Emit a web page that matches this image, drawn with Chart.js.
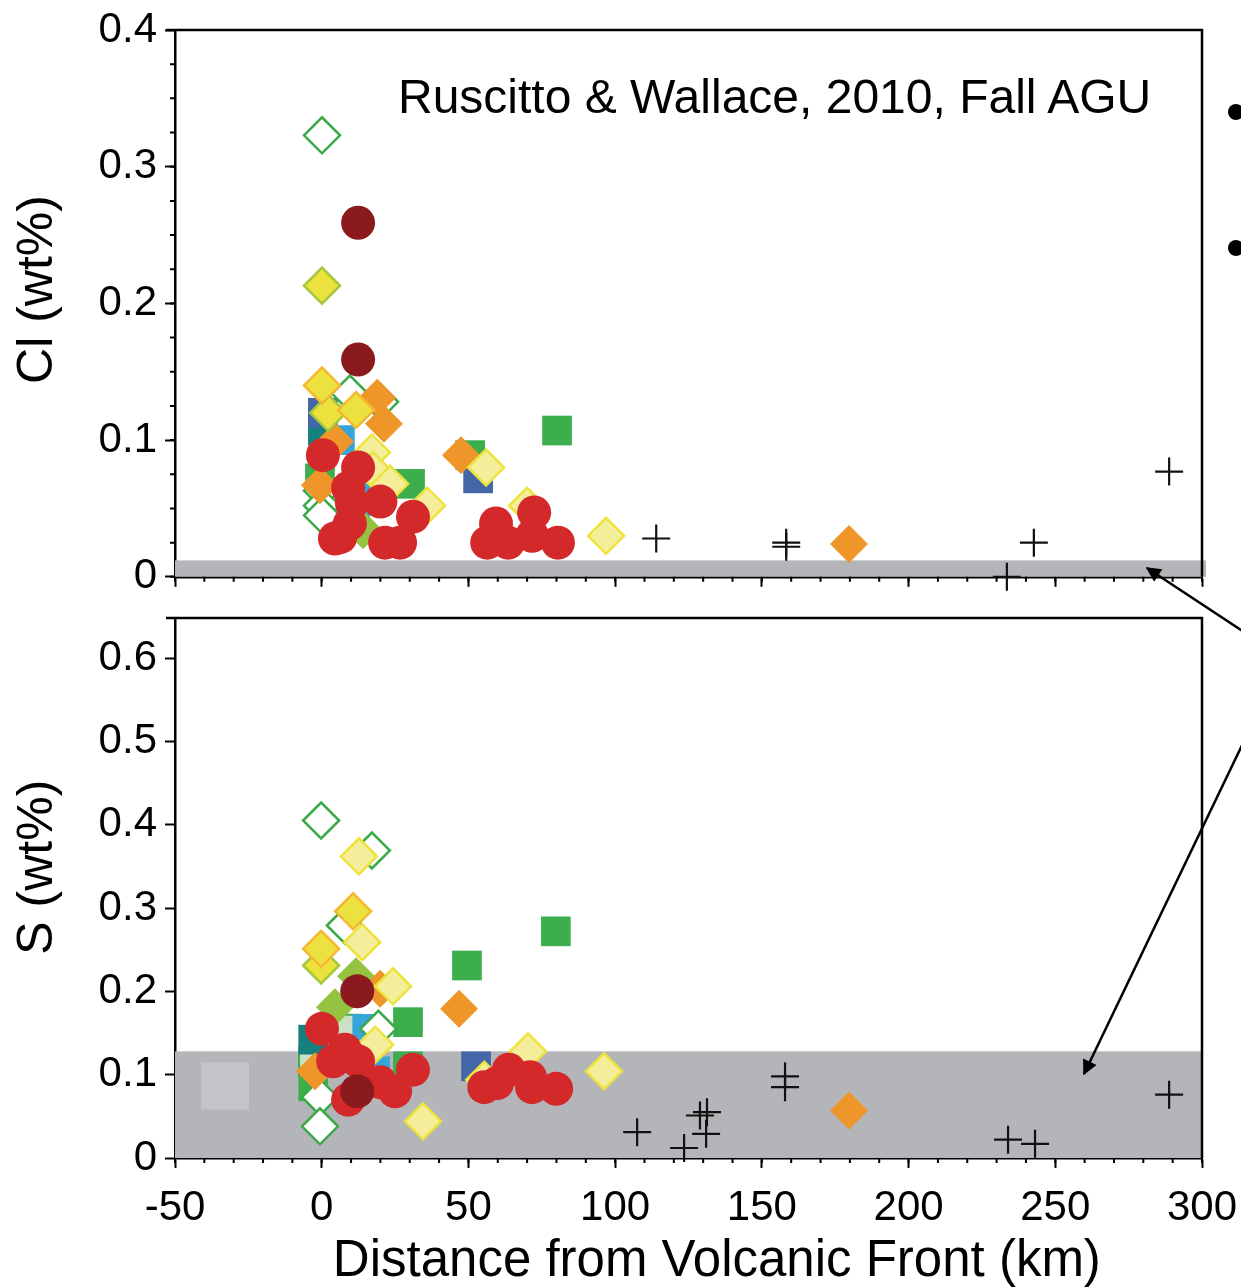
<!DOCTYPE html>
<html>
<head>
<meta charset="utf-8">
<script src="https://cdn.jsdelivr.net/npm/chart.js@4"></script>
<style>
  body { margin: 0; background: #fff; width: 1241px; height: 1287px; overflow: hidden; position: relative; font-family: 'Liberation Sans', Arial, sans-serif; }
  canvas { position: absolute; left: 0; }
  #clChart { top: -20px; }
  #sChart { top: 580px; }
  #note { position: absolute; left: 398px; top: 73px; font-size: 48px; line-height: 48px; white-space: nowrap; color: #000; }
  #over { position: absolute; left: 0; top: 0; pointer-events: none; }
</style>
</head>
<body>
<canvas id="clChart" width="1280" height="630"></canvas>
<canvas id="sChart" width="1280" height="707"></canvas>
<div id="note">Ruscitto &amp; Wallace, 2010, Fall AGU</div>
<svg id="over" width="1241" height="1287">
  <defs>
    <marker id="head" viewBox="0 0 10 10" refX="9" refY="5" markerWidth="7" markerHeight="6" orient="auto" markerUnits="strokeWidth">
      <path d="M0,0 L10,5 L0,10 z" fill="#000"/>
    </marker>
  </defs>
  <circle cx="1236" cy="112" r="8" fill="#000"/>
  <circle cx="1236" cy="248" r="8" fill="#000"/>
  <line x1="1250" y1="636" x2="1147" y2="568" stroke="#000" stroke-width="2.5" marker-end="url(#head)"/>
  <line x1="1245" y1="739" x2="1084" y2="1074" stroke="#000" stroke-width="2.5" marker-end="url(#head)"/>
</svg>
<script>
// x axis ticks (km from volcanic front)
const xTicks = [-50, 0, 50, 100, 150, 200, 250, 300]

// Cl (wt%) panel, [distance km, Cl wt%]
const clOpenGreen = [[0.1, 0.323], [9.6, 0.134], [19.9, 0.128], [0.1, 0.063], [0.1, 0.052], [0.1, 0.045]]
const clYellowG = [[0.1, 0.213], [2.2, 0.120]]
const clYellowO = [[0.1, 0.140], [11.7, 0.122]]
const clPaleYellow = [[17.1, 0.091], [17.5, 0.078], [23.3, 0.068], [35.9, 0.052], [56.0, 0.080], [70.0, 0.052], [96.9, 0.030]]
const clOrange = [[18.9, 0.131], [21.2, 0.112], [4.5, 0.099], [-0.6, 0.067], [47.5, 0.089], [179.7, 0.024]]
const clLime = [[13.0, 0.037], [14.1, 0.034]]
const clBlue = [[0.4, 0.120], [53.3, 0.072]]
const clTeal = [[0.4, 0.107]]
const clLightBlue = [[6.2, 0.100], [17.1, 0.066], [11.4, 0.041]]
const clGreen = [[-0.6, 0.072], [30.1, 0.068], [50.6, 0.089], [80.2, 0.107]]
const clRed = [[0.4, 0.089], [12.4, 0.080], [9.0, 0.065], [10.3, 0.054], [20.0, 0.055], [31.1, 0.044],
  [9.6, 0.039], [4.5, 0.028], [6.3, 0.029], [21.6, 0.025], [26.7, 0.025], [59.4, 0.039], [56.4, 0.025],
  [63.5, 0.025], [72.4, 0.047], [71.7, 0.030], [80.5, 0.025]]
const clDarkRed = [[12.4, 0.259], [12.4, 0.159]]
const clCross = [[114.0, 0.028], [158.3, 0.025], [158.3, 0.022], [242.7, 0.025], [288.8, 0.077], [233.5, 0.0]]

// S (wt%) panel, [distance km, S wt%]
const sOpenGreen = [[-0.2, 0.405], [17.1, 0.369], [7.9, 0.279], [19.3, 0.155], [-0.6, 0.073], [-0.6, 0.038]]
const sYellowG = [[-0.2, 0.231]]
const sYellowO = [[10.7, 0.296], [-0.2, 0.251]]
const sPaleYellow = [[12.7, 0.362], [13.8, 0.259], [24.3, 0.206], [18.2, 0.136], [70.3, 0.128], [96.2, 0.104], [55.4, 0.094], [34.5, 0.044]]
const sOrange = [[19.9, 0.203], [46.8, 0.179], [-2.3, 0.104], [179.7, 0.057]]
const sLime = [[11.7, 0.218], [4.5, 0.181]]
const sBlue = [[52.6, 0.110]]
const sTeal = [[-2.9, 0.142]]
const sLightBlue = [[15.5, 0.155], [18.2, 0.104]]
const sGreen = [[49.5, 0.231], [79.8, 0.272], [29.4, 0.163], [29.4, 0.110], [-2.9, 0.086]]
const sLightGreen = [[8.7, 0.155], [-2.9, 0.116]]
const sRed = [[0.1, 0.155], [7.9, 0.130], [3.9, 0.116], [12.4, 0.116], [31.1, 0.106], [19.9, 0.091],
  [25.0, 0.080], [9.0, 0.070], [55.4, 0.085], [59.8, 0.090], [63.8, 0.106], [71.0, 0.097], [71.7, 0.085], [79.9, 0.083]]
const sDarkRed = [[12.1, 0.200], [12.1, 0.080]]
const sCross = [[107.5, 0.031], [123.5, 0.012], [128.9, 0.051], [131.3, 0.055], [131.0, 0.029],
  [157.9, 0.098], [157.9, 0.085], [233.9, 0.022], [243.1, 0.017], [288.8, 0.076]]

// detection-limit bands and the grey box in the S panel
const clBand = 0.012
const sBand = 0.128
const sBox = { x: [-41.1, -24.8], y: [0.058, 0.115] }

Chart.defaults.font.family = "'Liberation Sans', Arial, sans-serif"
Chart.defaults.color = '#000'

const styles = {
  cross: { pointStyle: 'cross', pointRadius: 14, borderColor: '#111', borderWidth: 2.2, backgroundColor: '#111' },
  darkRed: { pointStyle: 'circle', pointRadius: 17, backgroundColor: '#8a1a1e', borderColor: '#8a1a1e', borderWidth: 0 },
  red: { pointStyle: 'circle', pointRadius: 17, backgroundColor: '#d4292a', borderColor: '#d4292a', borderWidth: 0 },
  paleYellow: { pointStyle: 'rectRot', pointRadius: 18, backgroundColor: '#f4ee9a', borderColor: '#ede33b', borderWidth: 2.5 },
  yellowO: { pointStyle: 'rectRot', pointRadius: 18, backgroundColor: '#ece23f', borderColor: '#f6b731', borderWidth: 2.5 },
  yellowG: { pointStyle: 'rectRot', pointRadius: 18, backgroundColor: '#ebe23e', borderColor: '#a6c73d', borderWidth: 2.5 },
  orange: { pointStyle: 'rectRot', pointRadius: 19, backgroundColor: '#ee962a', borderColor: '#ee962a', borderWidth: 0 },
  lime: { pointStyle: 'rectRot', pointRadius: 19, backgroundColor: '#95c241', borderColor: '#95c241', borderWidth: 0 },
  openGreen: { pointStyle: 'rectRot', pointRadius: 18, backgroundColor: '#fff', borderColor: '#3aaa48', borderWidth: 2.5 },
  blue: { pointStyle: 'rect', pointRadius: 21, backgroundColor: '#4466a9', borderColor: '#4466a9', borderWidth: 0 },
  teal: { pointStyle: 'rect', pointRadius: 21, backgroundColor: '#16807f', borderColor: '#16807f', borderWidth: 0 },
  lightBlue: { pointStyle: 'rect', pointRadius: 21, backgroundColor: '#36a5d9', borderColor: '#36a5d9', borderWidth: 0 },
  green: { pointStyle: 'rect', pointRadius: 21, backgroundColor: '#3cae4d', borderColor: '#3cae4d', borderWidth: 0 },
  lightGreen: { pointStyle: 'rect', pointRadius: 20, backgroundColor: '#c9e2c5', borderColor: '#3cae4d', borderWidth: 2 }
}

function ds(label, pts, style) {
  return Object.assign({
    label: label,
    data: pts.map(p => ({ x: p[0], y: p[1] })),
    clip: false,
    pointHoverRadius: style.pointRadius
  }, style)
}

// grey bands behind the points
const bandPlugin = {
  id: 'band',
  beforeDatasetsDraw(chart, args, opts) {
    const { ctx, chartArea } = chart
    const x = chart.scales.x
    const y = chart.scales.y
    ctx.save()
    ctx.fillStyle = '#b3b5b8'
    const top = y.getPixelForValue(opts.top)
    ctx.fillRect(chartArea.left, top, chartArea.right - chartArea.left + opts.extra, chartArea.bottom - top)
    if (opts.box) {
      ctx.fillStyle = '#c3c4c7'
      const x0 = x.getPixelForValue(opts.box.x[0])
      const x1 = x.getPixelForValue(opts.box.x[1])
      const y0 = y.getPixelForValue(opts.box.y[1])
      const y1 = y.getPixelForValue(opts.box.y[0])
      ctx.fillRect(x0, y0, x1 - x0, y1 - y0)
    }
    ctx.restore()
  }
}

// minor ticks and the top / right frame lines
const framePlugin = {
  id: 'frame',
  afterDraw(chart, args, opts) {
    const { ctx, chartArea } = chart
    const x = chart.scales.x
    const y = chart.scales.y
    ctx.save()
    ctx.strokeStyle = '#000'
    ctx.lineWidth = 2.5
    ctx.beginPath()
    ctx.moveTo(chartArea.left - 9, chartArea.top)
    ctx.lineTo(chartArea.right, chartArea.top)
    ctx.lineTo(chartArea.right, chartArea.bottom)
    ctx.stroke()
    ctx.lineWidth = 2
    ctx.beginPath()
    for (let v = x.min; v <= x.max + 1e-9; v += opts.xMinor) {
      const px = x.getPixelForValue(v)
      ctx.moveTo(px, chartArea.bottom)
      ctx.lineTo(px, chartArea.bottom + opts.xLen)
    }
    if (opts.yMinor) {
      for (let v = y.min; v <= y.max + 1e-9; v += opts.yMinor) {
        const py = y.getPixelForValue(v)
        ctx.moveTo(chartArea.left, py)
        ctx.lineTo(chartArea.left - opts.yLen, py)
      }
    }
    ctx.stroke()
    ctx.restore()
  }
}

function isMajor(v) {
  return Math.abs(v * 10 - Math.round(v * 10)) < 1e-6
}

function yLabel(v) {
  if (!isMajor(v)) return ''
  return Math.abs(v) < 1e-9 ? '0' : v.toFixed(1)
}

function makeChart(id, datasets, cfg) {
  return new Chart(document.getElementById(id), {
    type: 'scatter',
    data: { datasets: datasets },
    plugins: [bandPlugin, framePlugin],
    options: {
      responsive: false,
      animation: false,
      devicePixelRatio: 1,
      events: [],
      layout: { padding: { top: cfg.padTop, right: 78, left: 0, bottom: 0 } },
      plugins: {
        legend: { display: false },
        tooltip: { enabled: false },
        band: { top: cfg.band, extra: cfg.bandExtra, box: cfg.box },
        frame: { xMinor: 10, xLen: 5, yMinor: cfg.yMinor, yLen: 5 }
      },
      scales: {
        x: {
          type: 'linear',
          min: -50,
          max: 300,
          afterBuildTicks: (scale) => { scale.ticks = xTicks.map(v => ({ value: v })) },
          afterFit: (scale) => { scale.height = cfg.xHeight },
          border: { display: true, color: '#000', width: 2.5 },
          grid: { display: true, drawOnChartArea: false, drawTicks: true, tickLength: 10, tickColor: '#000', tickWidth: 2 },
          ticks: { display: cfg.xLabels, padding: 15, maxRotation: 0, font: { size: 42 }, color: '#000' },
          title: { display: cfg.xLabels, text: '    Distance from Volcanic Front (km)', font: { size: 51, lineHeight: 1.0 }, padding: { top: 0, bottom: 0 }, color: '#000' }
        },
        y: {
          type: 'linear',
          min: 0,
          max: cfg.yMax,
          ticks: { stepSize: cfg.yStep, includeBounds: false, callback: yLabel, padding: 8, font: { size: 42 }, color: '#000' },
          afterFit: (scale) => { scale.width = 175 },
          border: { display: true, color: '#000', width: 2.5 },
          grid: { display: true, drawOnChartArea: false, drawTicks: true, tickLength: 10, tickColor: '#000', tickWidth: 2 },
          title: { display: true, text: cfg.yTitle, font: { size: 50 }, padding: { top: 8, bottom: 0 }, color: '#000' }
        }
      }
    }
  })
}

makeChart('clChart', [
  ds('cross', clCross, styles.cross),
  ds('darkRed', clDarkRed, styles.darkRed),
  ds('red', clRed, styles.red),
  ds('paleYellow', clPaleYellow, styles.paleYellow),
  ds('yellowO', clYellowO, styles.yellowO),
  ds('yellowG', clYellowG, styles.yellowG),
  ds('orange', clOrange, styles.orange),
  ds('lime', clLime, styles.lime),
  ds('openGreen', clOpenGreen, styles.openGreen),
  ds('blue', clBlue, styles.blue),
  ds('teal', clTeal, styles.teal),
  ds('lightBlue', clLightBlue, styles.lightBlue),
  ds('green', clGreen, styles.green)
], { padTop: 50, xHeight: 33, xLabels: false, yMax: 0.4, yStep: 0.1, yMinor: 0.025, band: clBand, bandExtra: 4, yTitle: '  Cl (wt%)' })

makeChart('sChart', [
  ds('cross', sCross, styles.cross),
  ds('darkRed', sDarkRed, styles.darkRed),
  ds('red', sRed, styles.red),
  ds('paleYellow', sPaleYellow, styles.paleYellow),
  ds('yellowO', sYellowO, styles.yellowO),
  ds('yellowG', sYellowG, styles.yellowG),
  ds('orange', sOrange, styles.orange),
  ds('lime', sLime, styles.lime),
  ds('openGreen', sOpenGreen, styles.openGreen),
  ds('blue', sBlue, styles.blue),
  ds('teal', sTeal, styles.teal),
  ds('lightBlue', sLightBlue, styles.lightBlue),
  ds('green', sGreen, styles.green),
  ds('lightGreen', sLightGreen, styles.lightGreen)
], { padTop: 38, xHeight: 129, xLabels: true, yMax: 0.648, yStep: 0.05, yMinor: 0, band: sBand, bandExtra: 0, box: sBox, yTitle: '   S (wt%)' })
</script>
</body>
</html>
